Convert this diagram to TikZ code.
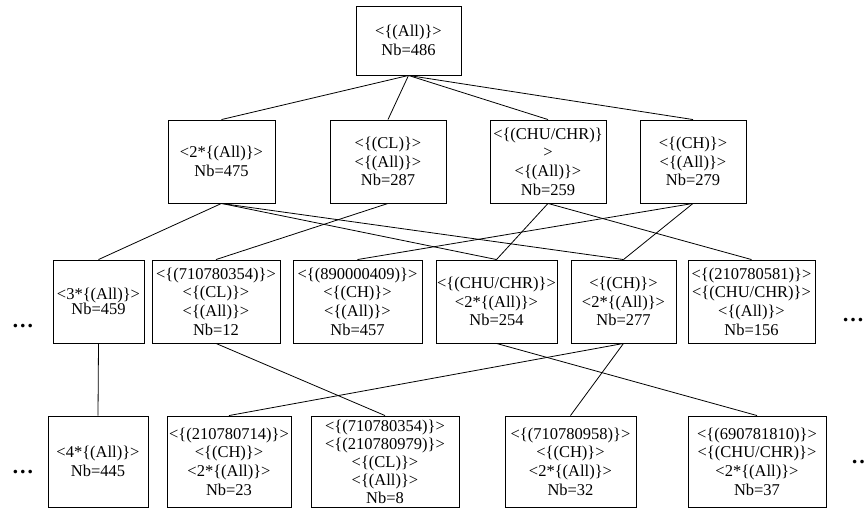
\documentclass[tikz,border=0pt]{standalone}
\usepackage{fontspec}
\setmainfont{Liberation Serif}

\begin{document}
\begin{tikzpicture}[x=1pt,y=-1pt,
  box/.style={draw,line width=0.9pt,align=center,inner sep=0pt,minimum width=#1,
    font=\fontsize{16.5}{18.7}\selectfont},
  row/.style={minimum height=83pt},
  low/.style={minimum height=91pt},
  dots/.style={inner sep=0pt,font=\fontsize{22}{22}\selectfont\bfseries},
  edge/.style={line width=0.8pt}]
\useasboundingbox (0,0) rectangle (865,508);
% top
\node [box=105pt,minimum height=69pt] (all) at (408.5,40.5) {<\{(All)\}>\\Nb=486};
% second row
\node [box=107pt,row] (two) at (221.5,161.5) {<2*\{(All)\}>\\Nb=475};
\node [box=116pt,row] (cl) at (388,161.5) {<\{(CL)\}>\\<\{(All)\}>\\Nb=287};
\node [box=116pt,row] (chu) at (548,161.5) {<\{(CHU/CHR)\}\\>\\<\{(All)\}>\\Nb=259};
\node [box=106pt,row] (ch) at (693,161.5) {<\{(CH)\}>\\<\{(All)\}>\\Nb=279};
% third row
\node [box=91pt,row,font=\fontsize{16.5}{15}\selectfont] (three) at (98.5,301.5) {<3*\{(All)\}>\\Nb=459};
\node [box=128pt,row] (clA) at (216,301.5) {<\{(710780354)\}>\\<\{(CL)\}>\\<\{(All)\}>\\Nb=12};
\node [box=129pt,row] (chA) at (357.5,301.5) {<\{(890000409)\}>\\<\{(CH)\}>\\<\{(All)\}>\\Nb=457};
\node [box=121pt,row] (chutwo) at (496.5,301.5) {<\{(CHU/CHR)\}>\\<2*\{(All)\}>\\Nb=254};
\node [box=105pt,row] (chtwo) at (623.5,301.5) {<\{(CH)\}>\\<2*\{(All)\}>\\Nb=277};
\node [box=127pt,row] (chuA) at (751.5,301.5) {<\{(210780581)\}>\\<\{(CHU/CHR)\}>\\<\{(All)\}>\\Nb=156};
% fourth row
\node [box=100pt,low] (four) at (98,461.5) {<4*\{(All)\}>\\Nb=445};
\node [box=124pt,low] (chB) at (229,461.5) {<\{(210780714)\}>\\<\{(CH)\}>\\<2*\{(All)\}>\\Nb=23};
\node [box=148pt,low,font=\fontsize{16.5}{18}\selectfont] (clB) at (385,461.5) {<\{(710780354)\}>\\<\{(210780979)\}>\\<\{(CL)\}>\\<\{(All)\}>\\Nb=8};
\node [box=131pt,low] (chC) at (570.5,461.5) {<\{(710780958)\}>\\<\{(CH)\}>\\<2*\{(All)\}>\\Nb=32};
\node [box=138pt,low] (chuB) at (757,461.5) {<\{(690781810)\}>\\<\{(CHU/CHR)\}>\\<2*\{(All)\}>\\Nb=37};
% dots
\node [dots] (dl3) at (23,326) {\dots};
\node [dots] (dl4) at (23,472) {\dots};
\node [dots] (dr3) at (853,320) {\dots};
\node [dots] (dr4) at (862,462) {\dots};
% links
\draw [edge] (all.south) -- (two.north);
\draw [edge] (all.south) -- (cl.north);
\draw [edge] (all.south) -- (chu.north);
\draw [edge] (all.south) -- (ch.north);
\draw [edge] (two.south) -- (three.north);
\draw [edge] (two.south) -- (chutwo.north);
\draw [edge] (two.south) -- (chtwo.north);
\draw [edge] (cl.south) -- (clA.north);
\draw [edge] (chu.south) -- (chutwo.north);
\draw [edge] (chu.south) -- (chuA.north);
\draw [edge] (ch.south) -- (chA.north);
\draw [edge] (ch.south) -- (chtwo.north);
\draw [edge] (three.south) -- (four.north);
\draw [edge] (clA.south) -- (clB.north);
\draw [edge] (chtwo.south) -- (chB.north);
\draw [edge] (chtwo.south) -- (chC.north);
\draw [edge] (chutwo.south) -- (chuB.north);
\end{tikzpicture}
\end{document}
